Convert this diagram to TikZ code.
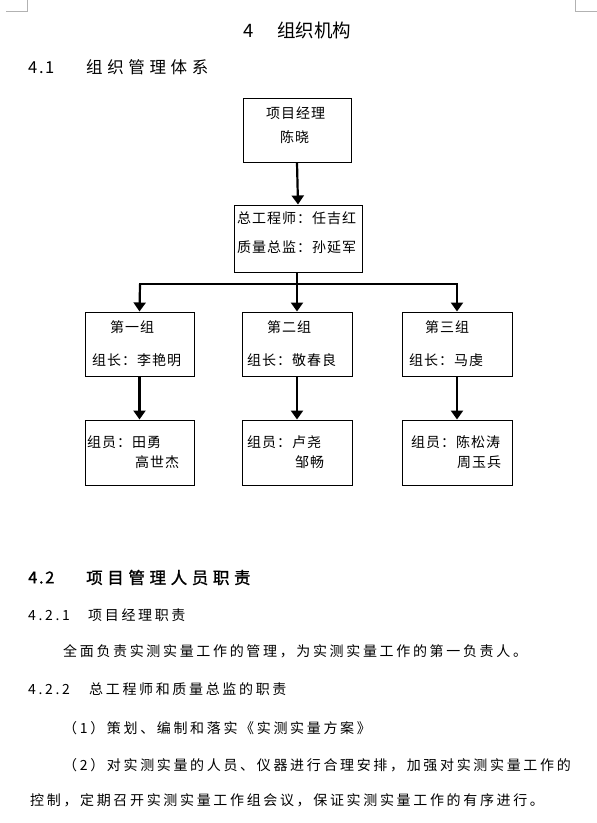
\documentclass[tikz,border=0pt]{standalone}
\usepackage{fontspec}
\usetikzlibrary{arrows.meta}
\setmainfont{Noto Sans CJK SC}
\newfontfamily\bodyf[LetterSpace=19]{Noto Sans CJK SC}
\newfontfamily\boxf[LetterSpace=7]{Noto Sans CJK SC}
\newfontfamily\headf[LetterSpace=28]{Noto Sans CJK SC}
\newfontfamily\headnf[LetterSpace=10]{Noto Sans CJK SC}
\newfontfamily\headbf[LetterSpace=28,FakeBold=1.2]{Noto Sans CJK SC}
\newfontfamily\headbnf[LetterSpace=10,FakeBold=1.2]{Noto Sans CJK SC}
\newfontfamily\titlef{Noto Sans CJK SC}
\tikzset{
  box/.style={draw=black, line width=1pt, inner sep=0pt},
  txt/.style={inner sep=0pt, anchor=west, font=\boxf\fontsize{14}{16}\selectfont},
  body/.style={inner sep=0pt, anchor=west, font=\bodyf\fontsize{14}{16}\selectfont},
  head/.style={inner sep=0pt, anchor=west, font=\headf\fontsize{16.5}{18}\selectfont},
  headnum/.style={inner sep=0pt, anchor=west, font=\headnf\fontsize{16.5}{18}\selectfont},
  headb/.style={inner sep=0pt, anchor=west, font=\headbf\fontsize{16.5}{18}\selectfont},
  headbnum/.style={inner sep=0pt, anchor=west, font=\headbnf\fontsize{16.5}{18}\selectfont},
  title/.style={inner sep=0pt, anchor=west, font=\titlef\fontsize{18.5}{20}\selectfont},
  arr/.style={line width=2.2pt, -{Triangle[width=12pt,length=9pt]}},
  ln/.style={line width=2.2pt, line cap=rect},
  cornermark/.style={draw=black!30, line width=1pt}
}
\begin{document}
\begin{tikzpicture}[x=1pt,y=-1pt]
\useasboundingbox (0,0) rectangle (597,823);
% corner marks
\draw[cornermark] (6,11) -- (27,11) -- (27,0);
\draw[cornermark] (575,0) -- (575,11) -- (597,11);
% headings
\node[title] (t4) at (243,30.5) {4};
\node[title] (t4c) at (277,30.5) {组织机构};
\node[headnum] (h41) at (28,67.5) {4.1};
\node[head] (h41c) at (86,67.5) {组织管理体系};
% boxes
\node[box, minimum width=108pt, minimum height=64pt] (b1) at (297,130) {};
\node[box, minimum width=128pt, minimum height=67pt] (b2) at (298,238.5) {};
\node[box, minimum width=109pt, minimum height=64pt] (gA) at (139.5,344) {};
\node[box, minimum width=110pt, minimum height=64pt] (gB) at (297,344) {};
\node[box, minimum width=110pt, minimum height=64pt] (gC) at (457,344) {};
\node[box, minimum width=109pt, minimum height=65pt] (mA) at (139.5,452.5) {};
\node[box, minimum width=110pt, minimum height=65pt] (mB) at (297,452.5) {};
\node[box, minimum width=110pt, minimum height=65pt] (mC) at (457,452.5) {};
% box texts
\node[txt] (b1a) at (266,113) {项目经理};
\node[txt] (b1b) at (280,137.5) {陈晓};
\node[txt] (b2a) at (237,218) {总工程师：任吉红};
\node[txt] (b2b) at (237,247) {质量总监：孙延军};
\node[txt] (gAa) at (110,327) {第一组};
\node[txt] (gAb) at (92,360) {组长：李艳明};
\node[txt] (gBa) at (267,327) {第二组};
\node[txt] (gBb) at (247,360) {组长：敬春良};
\node[txt] (gCa) at (425,327) {第三组};
\node[txt] (gCb) at (409,360) {组长：马虔};
\node[txt] (mAa) at (87,442) {组员：田勇};
\node[txt] (mAb) at (135,462) {高世杰};
\node[txt] (mBa) at (247,442) {组员：卢尧};
\node[txt] (mBb) at (295,462) {邹畅};
\node[txt] (mCa) at (411,442) {组员：陈松涛};
\node[txt] (mCb) at (457,462) {周玉兵};
% connectors
\coordinate (jn) at (297,284);
\coordinate (jl) at (140,284);
\coordinate (jr) at (457,284);
\draw[arr] (b1.south) -- (b2.north);
\draw[ln] (jl) -- (jr);
\draw[arr] (b2.south -| jn) -- (gB.north);
\draw[arr] (jl) -- (gA.north);
\draw[arr] (jr) -- (gC.north);
\draw[arr] (gA.south) -- (mA.north);
\draw[arr] (gB.south) -- (mB.north);
\draw[arr] (gC.south) -- (mC.north);
% section 4.2
\node[headbnum] (h42) at (28,577.5) {4.2};
\node[headb] (h42c) at (86,577.5) {项目管理人员职责};
\node[body] (h421) at (28,615) {4.2.1};
\node[body] (h421c) at (88,615) {项目经理职责};
\node[body] (p1) at (63,651.5) {全面负责实测实量工作的管理，为实测实量工作的第一负责人。};
\node[body] (h422) at (28,689.5) {4.2.2};
\node[body] (h422c) at (89,689.5) {总工程师和质量总监的职责};
\node[body] (p2) at (63,728) {（1）策划、编制和落实《实测实量方案》};
\node[body] (p3) at (63,765) {（2）对实测实量的人员、仪器进行合理安排，加强对实测实量工作的};
\node[body] (p4) at (30,800) {控制，定期召开实测实量工作组会议，保证实测实量工作的有序进行。};
\end{tikzpicture}
\end{document}
